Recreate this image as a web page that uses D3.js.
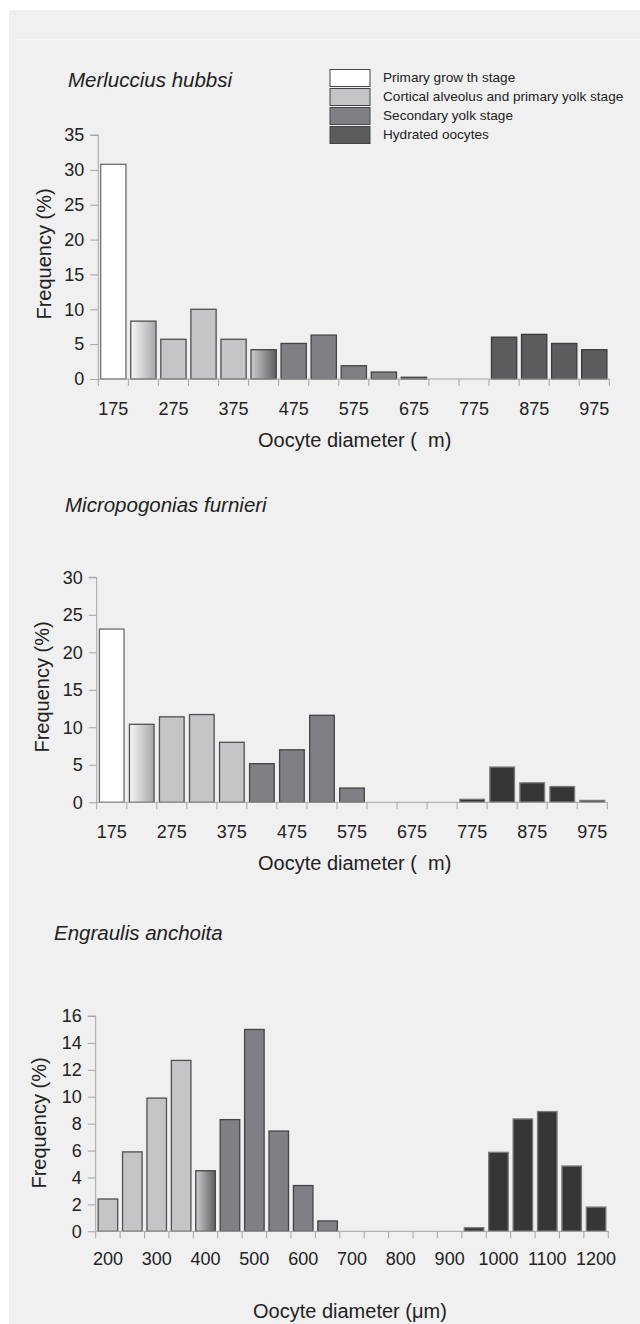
<!DOCTYPE html>
<html><head><meta charset="utf-8">
<script src="https://cdn.jsdelivr.net/npm/d3@7/dist/d3.min.js"></script>
<style>
html,body{margin:0;padding:0;background:#fff;}
svg{display:block;font-family:"Liberation Sans",Arial,sans-serif;}
</style></head>
<body>
<script>
// ---------- DATA ----------
const stageNames = ["Primary grow th stage","Cortical alveolus and primary yolk stage","Secondary yolk stage","Hydrated oocytes"];

const merlucciusBins = [175,225,275,325,375,425,475,525,575,625,675,725,775,825,875,925,975];
const merlucciusValues = [30.8,8.3,5.7,10.0,5.7,4.2,5.1,6.3,1.9,1.0,0.25,0,0,6.0,6.4,5.1,4.2];
const merlucciusStages = ["P","PC","C","C","C","CS","S","S","S","S","S","S","S","H","H","H","H"];
const merlucciusTicks = [175,275,375,475,575,675,775,875,975];

const micropogoniasBins = [175,225,275,325,375,425,475,525,575,625,675,725,775,825,875,925,975];
const micropogoniasValues = [23.1,10.4,11.4,11.7,8.0,5.15,7.0,11.6,1.9,0,0,0,0.4,4.7,2.6,2.1,0.25];
const micropogoniasStages = ["P","PC","C","C","C","S","S","S","S","S","S","S","D","D","D","D","D"];
const micropogoniasTicks = [175,275,375,475,575,675,775,875,975];

const engraulisBins = [200,250,300,350,400,450,500,550,600,650,700,750,800,850,900,950,1000,1050,1100,1150,1200];
const engraulisValues = [2.4,5.9,9.9,12.7,4.5,8.3,15.0,7.45,3.4,0.77,0,0,0,0,0,0.27,5.87,8.35,8.9,4.85,1.8];
const engraulisStages = ["C","C","C","C","CS","S","S","S","S","S","S","S","S","S","S","D","D","D","D","D","D"];
const engraulisTicks = [200,300,400,500,600,700,800,900,1000,1100,1200];

// ---------- STYLE ----------
const fills = {P:"#ffffff", C:"#c4c5c7", S:"#7f8083", H:"#5b5c5e", D:"#363636", PC:"url(#gPC)", CS:"url(#gCS)"};
const strokes = {P:"#6e6e6e", C:"#505050", S:"#444", H:"#3a3a3a", D:"#7a7a7a", PC:"#505050", CS:"#444"};
const axisColor = "#a4a4a4";
const textColor = "#222";

const W = 640, H = 1324;
const svg = d3.select("body").append("svg").attr("width", W).attr("height", H);
const defs = svg.append("defs");
function grad(id, c0, c1){
  const g = defs.append("linearGradient").attr("id", id).attr("x1","0%").attr("x2","100%").attr("y1","0%").attr("y2","0%");
  g.append("stop").attr("offset","0%").attr("stop-color", c0);
  g.append("stop").attr("offset","100%").attr("stop-color", c1);
}
grad("gPC", "#f7f7f7", "#a6a7a9");
grad("gCS", "#cbcccd", "#5e5f61");

svg.append("rect").attr("x",0).attr("y",0).attr("width",W).attr("height",H).attr("fill","#fff");
svg.append("rect").attr("x",9).attr("y",10).attr("width",W-9).attr("height",H-10).attr("fill","#f0f0f0");
svg.append("line").attr("x1",16).attr("x2",W).attr("y1",39.5).attr("y2",39.5).attr("stroke","#f6f6f6");

function drawChart(o){
  const g = svg.append("g");
  const x = d3.scaleBand().domain(o.bins).range([o.x0, o.x1]).paddingInner(o.pad).paddingOuter(o.pad/2);
  const y = d3.scaleLinear().domain([0, o.ymax]).range([o.yb, o.yt]);

  // title
  g.append("text").attr("x", o.titleX).attr("y", o.titleY)
    .attr("font-size", 20.5).attr("font-style","italic").attr("fill", textColor).text(o.title);

  // y axis
  const ya = g.append("g").attr("transform", `translate(${o.x0},0)`)
    .call(d3.axisLeft(y).tickValues(d3.range(0, o.ymax + 0.001, o.ystep)).tickSize(8).tickPadding(6).tickFormat(d3.format("d")));
  ya.select(".domain").attr("stroke", axisColor).attr("d", `M-8,${o.yt}H0V${o.yb}`);
  ya.selectAll(".tick line").attr("stroke", axisColor);
  ya.selectAll(".tick text").attr("font-size", 18).attr("fill", textColor).attr("font-family", "Liberation Sans, Arial, sans-serif");

  // bars
  g.append("g").selectAll("rect").data(o.bins.map((b,i)=>({b, v:o.values[i], s:o.stages[i]})))
    .join("rect")
    .attr("x", d => x(d.b)).attr("width", x.bandwidth())
    .attr("y", d => y(d.v)).attr("height", d => y(0) - y(d.v))
    .attr("fill", d => fills[d.s]).attr("stroke", d => strokes[d.s]).attr("stroke-width", 1.3)
    .attr("display", d => d.v > 0 ? null : "none");

  // x axis: line + boundary ticks
  const step = x.step();
  const xa = g.append("g").attr("transform", `translate(0,${o.yb})`);
  xa.append("line").attr("x1", o.x0).attr("x2", o.x1).attr("stroke", axisColor);
  const bounds = o.bins.map(b => x(b) - step * o.pad / 2).concat([x(o.bins[o.bins.length-1]) + x.bandwidth() + step*o.pad/2]);
  xa.selectAll("line.tk").data(bounds).join("line").attr("class","tk")
    .attr("x1", d => d).attr("x2", d => d).attr("y1", 0).attr("y2", 7).attr("stroke", axisColor);
  // labels
  const xl = g.append("g").attr("transform", `translate(0,${o.labelY})`)
    .call(d3.axisBottom(x).tickValues(o.ticks).tickSize(0).tickPadding(0));
  xl.select(".domain").remove();
  xl.selectAll(".tick text").attr("font-size", 18).attr("fill", textColor).attr("dy", 0)
    .attr("font-family", "Liberation Sans, Arial, sans-serif");

  // axis titles
  g.append("text").attr("x", o.xtX).attr("y", o.xtY).attr("font-size", 20).attr("fill", textColor)
    .style("white-space","pre").text(o.xTitle);
  g.append("text").attr("transform", `translate(${o.ytX},${o.ytY}) rotate(-90)`)
    .attr("text-anchor","middle").attr("font-size", 20).attr("fill", textColor).text("Frequency (%)");
}

drawChart({title:"Merluccius hubbsi", bins:merlucciusBins, values:merlucciusValues, stages:merlucciusStages, ticks:merlucciusTicks,
  x0:98.3, x1:609.3, yt:135, yb:379, ymax:35, ystep:5, pad:0.16,
  titleX:68, titleY:87, labelY:415, xtX:258, xtY:447, xTitle:"Oocyte diameter (  m)", ytX:51, ytY:254});

drawChart({title:"Micropogonias furnieri", bins:micropogoniasBins, values:micropogoniasValues, stages:micropogoniasStages, ticks:micropogoniasTicks,
  x0:96.7, x1:607.3, yt:577.3, yb:802.3, ymax:30, ystep:5, pad:0.18,
  titleX:65, titleY:512, labelY:838, xtX:258, xtY:870, xTitle:"Oocyte diameter (  m)", ytX:49, ytY:687});

drawChart({title:"Engraulis anchoita", bins:engraulisBins, values:engraulisValues, stages:engraulisStages, ticks:engraulisTicks,
  x0:95.7, x1:608.3, yt:1016, yb:1231.3, ymax:16, ystep:2, pad:0.2,
  titleX:54, titleY:940, labelY:1265, xtX:253, xtY:1318, xTitle:"Oocyte diameter (\u03bcm)", ytX:46, ytY:1123});

// legend
const legendKeys = ["P","C","S","H"];
const lg = svg.append("g");
lg.selectAll("rect").data(legendKeys).join("rect")
  .attr("x", 330).attr("y", (d,i) => 69.5 + i*19).attr("width", 40).attr("height", 17)
  .attr("fill", d => fills[d]).attr("stroke", "#444").attr("stroke-width", 1);
lg.selectAll("text").data(stageNames).join("text")
  .attr("x", 383).attr("y", (d,i) => 81.5 + i*19).attr("font-size", 13.6).attr("fill", textColor)
  .style("white-space","pre").text(d => d);
</script>
</body></html>
